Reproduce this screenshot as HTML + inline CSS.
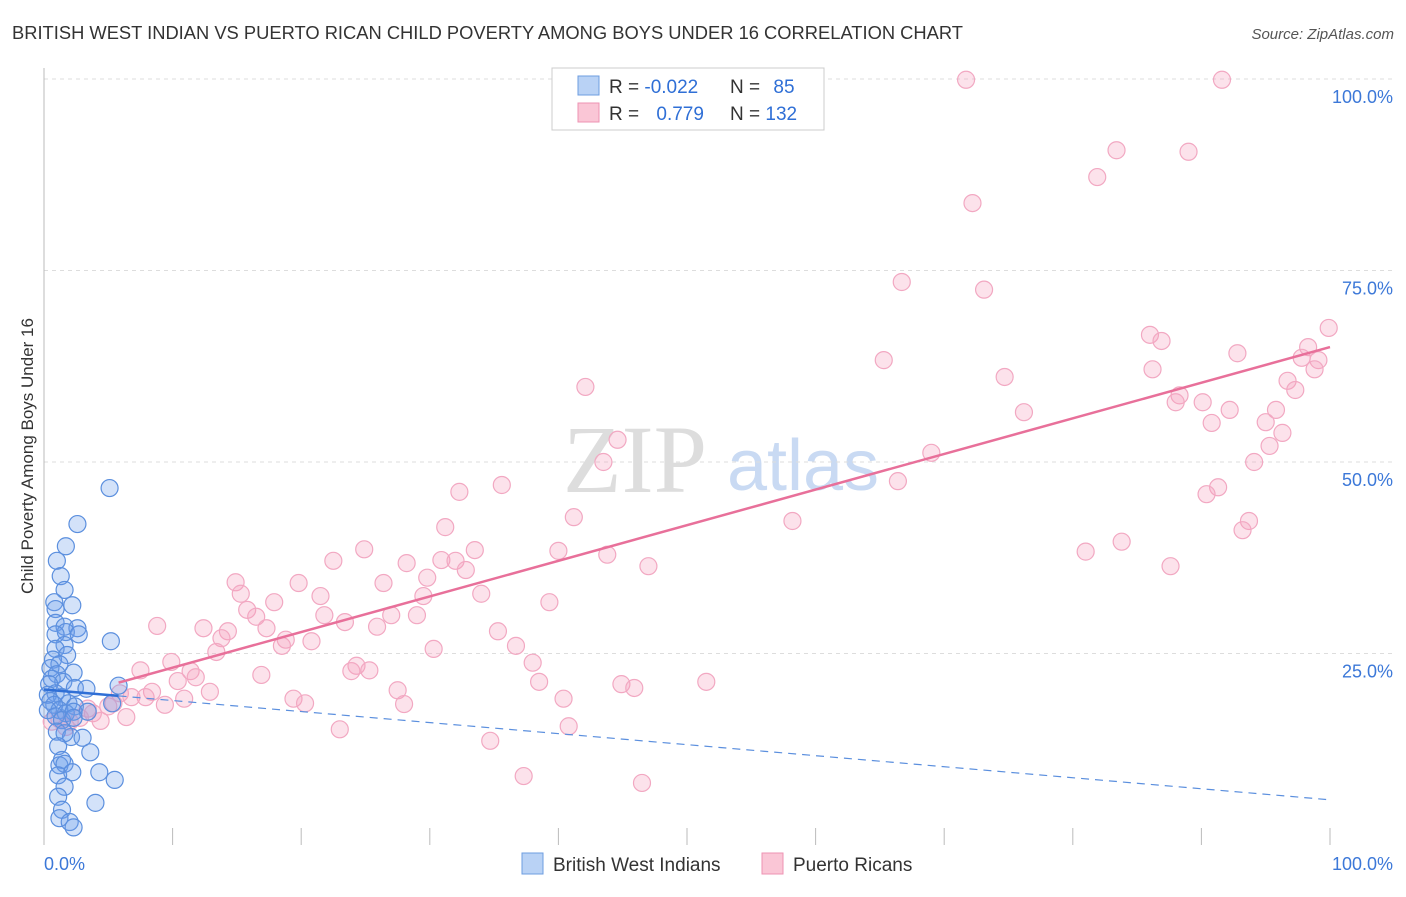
<!DOCTYPE html>
<html><head><meta charset="utf-8"><style>
body{margin:0;background:#fff;font-family:"Liberation Sans",sans-serif}
</style></head><body>
<svg id="chart" width="1406" height="892" xmlns="http://www.w3.org/2000/svg" font-family="Liberation Sans, sans-serif">
<text x="12" y="39" font-size="18" fill="#333" textLength="951" lengthAdjust="spacingAndGlyphs">BRITISH WEST INDIAN VS PUERTO RICAN CHILD POVERTY AMONG BOYS UNDER 16 CORRELATION CHART</text>
<text x="1394" y="39" font-size="15" fill="#555" text-anchor="end" font-style="italic">Source: ZipAtlas.com</text>
<text transform="translate(33,456) rotate(-90)" font-size="17" fill="#333" text-anchor="middle">Child Poverty Among Boys Under 16</text>
<g>
<text x="635" y="492" font-size="96" fill="#ddd" font-family="Liberation Serif, serif" text-anchor="middle">ZIP</text>
<text x="803" y="490" font-size="72" fill="#c9daf3" text-anchor="middle">atlas</text>
</g>
<g id="grid"></g><g id="axes"></g><g id="pts"></g><g id="lines"></g>
<g>
<rect x="552" y="68" width="272" height="62" fill="#fff" stroke="#ccc"/>
<rect x="578" y="76" width="21" height="19" fill="#b9d2f5" stroke="#6d9de0"/>
<rect x="578" y="103" width="21" height="19" fill="#fac6d6" stroke="#ee93b3"/>
<text x="609" y="93" font-size="19" fill="#333">R = <tspan fill="#2f6fd6">-0.022</tspan></text>
<text x="730" y="93" font-size="19" fill="#333">N = <tspan fill="#2f6fd6" dx="8">85</tspan></text>
<text x="609" y="120" font-size="19" fill="#333">R = <tspan fill="#2f6fd6" dx="12">0.779</tspan></text>
<text x="730" y="120" font-size="19" fill="#333">N = <tspan fill="#2f6fd6">132</tspan></text>
</g>
<g>
<rect x="522" y="853" width="21" height="21" fill="#b9d2f5" stroke="#6d9de0"/>
<text x="553" y="871" font-size="19" fill="#333">British West Indians</text>
<rect x="762" y="853" width="21" height="21" fill="#fac6d6" stroke="#ee93b3"/>
<text x="793" y="871" font-size="19" fill="#333">Puerto Ricans</text>
</g>
</svg>
<script>
const yTicks=[25,50,75,100];
const xTickCount=10;
const blueX=[5.1,2.6,1.7,1.0,1.3,1.6,0.8,2.2,0.9,0.9,1.6,2.6,1.7,0.9,2.7,5.2,1.6,0.9,1.8,0.7,1.2,0.5,2.3,1.0,0.6,1.5,0.4,2.4,3.3,5.8,0.9,0.3,1.4,0.5,1.9,0.8,2.4,1.2,0.3,1.7,2.3,0.9,5.3,3.4,1.4,2.3,1.0,2.1,1.6,3.0,1.1,3.6,1.4,1.2,1.6,1.1,2.2,4.3,5.5,1.6,1.1,4.0,1.4,1.2,2.0,2.3];
const blueY=[46.6,41.9,39.0,37.1,35.1,33.3,31.7,31.3,30.8,29.0,28.5,28.3,27.8,27.5,27.5,26.6,26.1,25.6,24.8,24.2,23.6,23.1,22.5,22.3,21.7,21.3,21.0,20.5,20.4,20.8,19.8,19.6,19.3,18.8,18.5,18.3,18.1,17.6,17.6,17.2,17.4,16.8,18.5,17.4,16.3,16.6,14.8,14.1,14.6,14.0,12.9,12.1,11.1,10.4,10.6,9.1,9.5,9.5,8.5,7.6,6.3,5.5,4.6,3.5,3.0,2.3];
const pinkX=[71.7,91.6,83.4,89.0,81.9,72.2,66.7,73.1,99.9,86.0,86.9,98.3,92.8,65.3,97.8,99.1,86.2,98.8,96.7,74.7,42.1,97.3,88.3,88.0,90.1,76.2,92.2,95.8,90.8,95.0,96.3,44.6,95.3,69.0,43.5,94.1,66.4,91.3,90.4,32.3,35.6,41.2,58.2,93.7,93.2,31.2,83.8,81.0,24.9,33.5,40.0,43.8,28.2,30.9,32.0,22.5,32.8,47.0,87.6,29.8,14.9,19.8,26.4,15.3,21.5,29.5,34.0,17.9,39.3,15.8,16.5,21.8,27.0,29.0,23.4,8.8,12.4,14.3,17.3,25.9,35.3,13.8,18.8,20.8,18.5,36.7,13.4,30.3,9.9,38.0,24.3,7.5,11.4,11.8,23.9,25.3,16.9,10.4,38.5,51.5,44.9,45.9,12.9,27.5,8.4,5.9,7.9,6.8,10.9,19.4,20.3,40.4,28.0,9.4,5.0,5.4,3.4,3.8,6.4,2.8,4.4,2.0,1.2,0.6,1.7,23.0,40.8,34.7,37.3,46.5];
const pinkY=[99.9,99.9,90.7,90.5,87.2,83.8,73.5,72.5,67.5,66.6,65.8,65.0,64.2,63.3,63.6,63.3,62.1,62.1,60.6,61.1,59.8,59.4,58.7,57.8,57.8,56.5,56.8,56.8,55.1,55.2,53.8,52.9,52.1,51.2,50.0,50.0,47.5,46.7,45.8,46.1,47.0,42.8,42.3,42.3,41.1,41.5,39.6,38.3,38.6,38.5,38.4,37.9,36.8,37.2,37.1,37.1,35.9,36.4,36.4,34.9,34.3,34.2,34.2,32.8,32.5,32.5,32.8,31.7,31.7,30.7,29.8,30.0,30.0,30.0,29.1,28.6,28.3,27.9,28.3,28.5,27.9,27.0,26.8,26.6,26.0,26.0,25.2,25.6,23.9,23.8,23.4,22.8,22.7,21.9,22.7,22.8,22.2,21.4,21.3,21.3,21.0,20.5,20.0,20.2,20.0,19.8,19.3,19.3,19.1,19.1,18.5,19.1,18.4,18.3,18.1,18.5,17.8,17.2,16.7,16.6,16.2,16.1,16.4,16.1,15.4,15.1,15.5,13.6,9.0,8.1];
const blueTrend=[20.3,5.9];
const blueSolidEnd=5.8;
const pinkTrend=[18.5,65.0];
const pinkStart=5.8;

const X=v=>44+v*12.86, Y=v=>845-v*7.66;
const NS="http://www.w3.org/2000/svg";
function mk(parent,tag,attrs){const e=document.createElementNS(NS,tag);for(const k in attrs)e.setAttribute(k,attrs[k]);document.getElementById(parent).appendChild(e);return e;}
yTicks.forEach(t=>{
  const l=mk('grid','line',{x1:44,x2:1394,y1:Y(t),y2:Y(t),stroke:'#ddd','stroke-dasharray':'4,4'});
  
  
  const tx=mk('grid','text',{x:1393,y:Y(t)+24,'font-size':18,fill:'#3c78d8','text-anchor':'end'});
  tx.textContent=t.toFixed(1)+'%';
  
  
});
const ax=mk('axes','line',{x1:44,x2:44,y1:68,y2:845,stroke:'#bbb'});


for(let i=0;i<=xTickCount;i++){
  const t=mk('axes','line',{x1:X(i*10),x2:X(i*10),y1:828,y2:845,stroke:'#bbb'});
  
  
}
const x0=mk('axes','text',{x:44,y:870,'font-size':18,fill:'#3c78d8'});x0.textContent='0.0%';


const x1=mk('axes','text',{x:1393,y:870,'font-size':18,fill:'#3c78d8','text-anchor':'end'});x1.textContent='100.0%';


pinkX.forEach((v,i)=>{
  const c=mk('pts','circle',{cx:X(v),cy:Y(pinkY[i]),r:8.5,fill:'rgba(246,160,190,0.3)',stroke:'#f2a8c2','stroke-width':1.2});
  
  
});
blueX.forEach((v,i)=>{
  const c=mk('pts','circle',{cx:X(v),cy:Y(blueY[i]),r:8.5,fill:'rgba(110,160,235,0.3)',stroke:'#5b8fde','stroke-width':1.2});
  
  
});
const bv=x=>blueTrend[0]+(blueTrend[1]-blueTrend[0])*x/100;
const pv=x=>pinkTrend[0]+(pinkTrend[1]-pinkTrend[0])*x/100;
const b1=mk('lines','line',{x1:X(0),y1:Y(bv(0)),x2:X(blueSolidEnd),y2:Y(bv(blueSolidEnd)),stroke:'#2f6fd6','stroke-width':2.5});


const b2=mk('lines','line',{x1:X(blueSolidEnd),y1:Y(bv(blueSolidEnd)),x2:X(100),y2:Y(bv(100)),stroke:'#5b8fde','stroke-width':1.2,'stroke-dasharray':'8,6'});


const p1=mk('lines','line',{x1:X(pinkStart),y1:Y(pv(pinkStart)),x2:X(100),y2:Y(pv(100)),stroke:'#e8709a','stroke-width':2.5});


</script>
</body></html>
